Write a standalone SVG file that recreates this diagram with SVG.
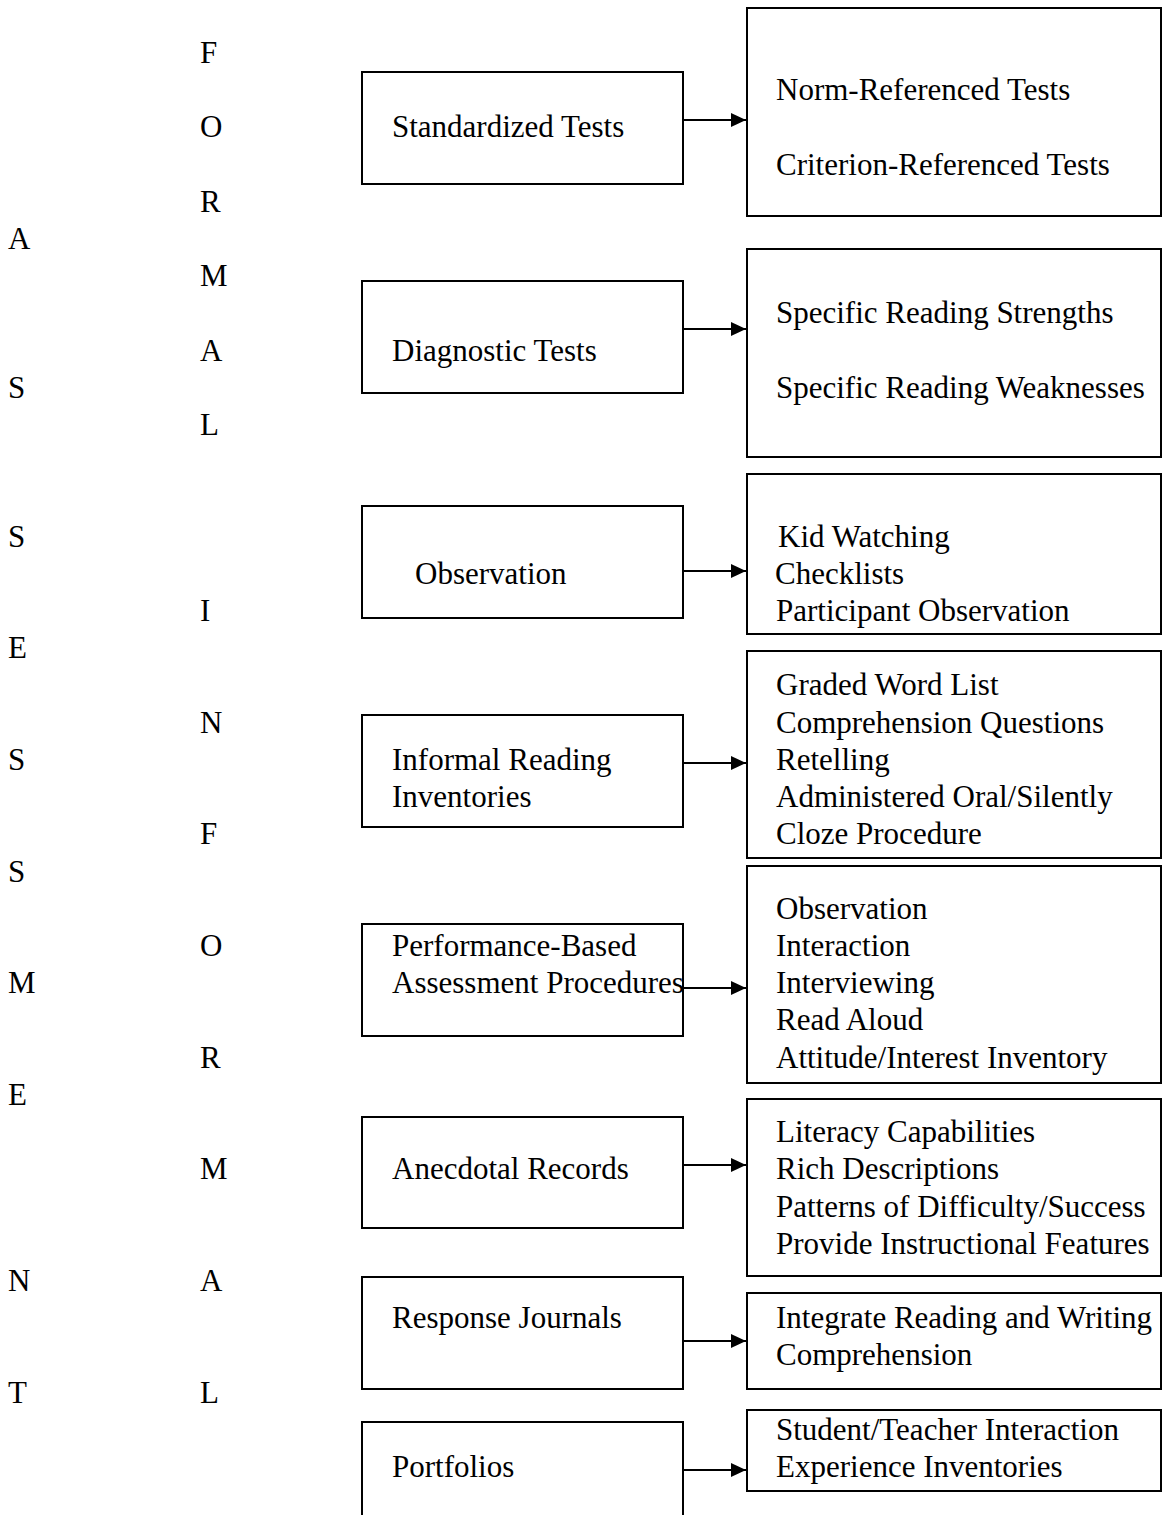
<svg xmlns="http://www.w3.org/2000/svg" width="1163" height="1515" viewBox="0 0 1163 1515">
<style>
text{font-family:"Liberation Serif","Times New Roman",serif;font-size:31px;fill:#000}
.box{fill:none;stroke:#000;stroke-width:2}
.conn{stroke:#000;stroke-width:2;fill:none}
</style>
<defs>
<marker id="ah" markerWidth="15" markerHeight="14" refX="15" refY="7" orient="auto" markerUnits="userSpaceOnUse">
<path d="M0,0 L15,7 L0,14 Z" fill="#000"/>
</marker>
</defs>
<rect width="1163" height="1515" fill="#fff"/>
<g id="title-assessment">
<text x="8" y="249">A</text>
<text x="8" y="398">S</text>
<text x="8" y="547">S</text>
<text x="8" y="658">E</text>
<text x="8" y="770">S</text>
<text x="8" y="882">S</text>
<text x="8" y="993">M</text>
<text x="8" y="1105">E</text>
<text x="8" y="1291">N</text>
<text x="8" y="1403">T</text>
</g>
<g id="title-formal">
<text x="200" y="63">F</text>
<text x="200" y="137">O</text>
<text x="200" y="212">R</text>
<text x="200" y="286">M</text>
<text x="200" y="361">A</text>
<text x="200" y="435">L</text>
</g>
<g id="title-informal">
<text x="200" y="621">I</text>
<text x="200" y="733">N</text>
<text x="200" y="844">F</text>
<text x="200" y="956">O</text>
<text x="200" y="1068">R</text>
<text x="200" y="1179">M</text>
<text x="200" y="1291">A</text>
<text x="200" y="1403">L</text>
</g>
<g id="n-standardized"><rect class="box" x="362" y="72" width="321" height="112"/><text x="392" y="137">Standardized Tests</text></g>
<g id="n-diagnostic"><rect class="box" x="362" y="281" width="321" height="112"/><text x="392" y="361">Diagnostic Tests</text></g>
<g id="n-observation"><rect class="box" x="362" y="506" width="321" height="112"/><text x="415" y="584">Observation</text></g>
<g id="n-iri"><rect class="box" x="362" y="715" width="321" height="112"/><text x="392" y="770">Informal Reading</text><text x="392" y="807">Inventories</text></g>
<g id="n-performance"><rect class="box" x="362" y="924" width="321" height="112"/><text x="392" y="956">Performance-Based</text><text x="392" y="993">Assessment Procedures</text></g>
<g id="n-anecdotal"><rect class="box" x="362" y="1117" width="321" height="111"/><text x="392" y="1179">Anecdotal Records</text></g>
<g id="n-response"><rect class="box" x="362" y="1277" width="321" height="112"/><text x="392" y="1328">Response Journals</text></g>
<g id="n-portfolios"><path class="box" d="M362,1530 V1422 H683 V1530"/><text x="392" y="1477">Portfolios</text></g>

<g id="r-standardized"><rect class="box" x="747" y="8" width="414" height="208"/><text x="776" y="100">Norm-Referenced Tests</text><text x="776" y="175">Criterion-Referenced Tests</text></g>
<g id="r-diagnostic"><rect class="box" x="747" y="249" width="414" height="208"/><text x="776" y="323">Specific Reading Strengths</text><text x="776" y="398">Specific Reading Weaknesses</text></g>
<g id="r-observation"><rect class="box" x="747" y="474" width="414" height="160"/><text x="778" y="547">Kid Watching</text><text x="775" y="584">Checklists</text><text x="776" y="621">Participant Observation</text></g>
<g id="r-iri"><rect class="box" x="747" y="651" width="414" height="207"/><text x="776" y="695">Graded Word List</text><text x="776" y="733">Comprehension Questions</text><text x="776" y="770">Retelling</text><text x="776" y="807">Administered Oral/Silently</text><text x="776" y="844">Cloze Procedure</text></g>
<g id="r-performance"><rect class="box" x="747" y="866" width="414" height="217"/><text x="776" y="919">Observation</text><text x="776" y="956">Interaction</text><text x="776" y="993">Interviewing</text><text x="776" y="1030">Read Aloud</text><text x="776" y="1068">Attitude/Interest Inventory</text></g>
<g id="r-anecdotal"><rect class="box" x="747" y="1099" width="414" height="177"/><text x="776" y="1142">Literacy Capabilities</text><text x="776" y="1179">Rich Descriptions</text><text x="776" y="1217">Patterns of Difficulty/Success</text><text x="776" y="1254">Provide Instructional Features</text></g>
<g id="r-response"><rect class="box" x="747" y="1293" width="414" height="96"/><text x="776" y="1328">Integrate Reading and Writing</text><text x="776" y="1365">Comprehension</text></g>
<g id="r-portfolios"><rect class="box" x="747" y="1410" width="414" height="81"/><text x="776" y="1440">Student/Teacher Interaction</text><text x="776" y="1477">Experience Inventories</text></g>

<g id="connectors">
<line class="conn" x1="683" y1="120" x2="746" y2="120" marker-end="url(#ah)"/>
<line class="conn" x1="683" y1="329" x2="746" y2="329" marker-end="url(#ah)"/>
<line class="conn" x1="683" y1="571" x2="746" y2="571" marker-end="url(#ah)"/>
<line class="conn" x1="683" y1="763" x2="746" y2="763" marker-end="url(#ah)"/>
<line class="conn" x1="683" y1="988" x2="746" y2="988" marker-end="url(#ah)"/>
<line class="conn" x1="683" y1="1165" x2="746" y2="1165" marker-end="url(#ah)"/>
<line class="conn" x1="683" y1="1341" x2="746" y2="1341" marker-end="url(#ah)"/>
<line class="conn" x1="683" y1="1470" x2="746" y2="1470" marker-end="url(#ah)"/>
</g>
</svg>
